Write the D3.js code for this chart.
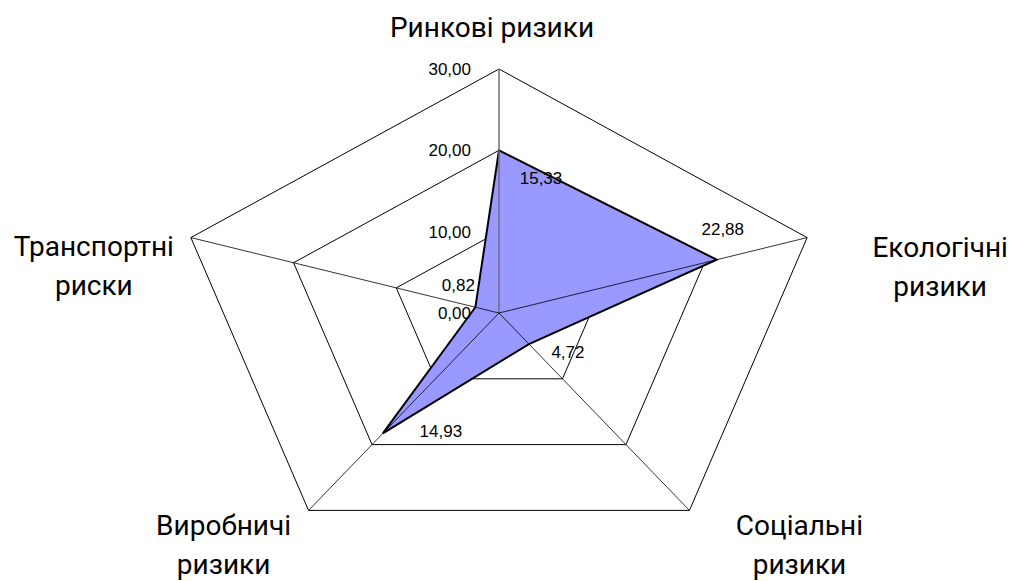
<!DOCTYPE html>
<html>
<head>
<meta charset="utf-8">
<script src="https://cdn.jsdelivr.net/npm/d3@7"></script>
<style>
  body { margin: 0; background: #fff; }
  text { fill: #000; }
  .cat { font-family: Roboto, "Noto Sans", sans-serif; font-size: 28px; }
  .num { font-family: "Liberation Sans", Arial, sans-serif; font-size: 17px; }
</style>
</head>
<body>
<script>
// categories (each label may wrap to two lines)
var categories = [
  ['Ринкові ризики'],
  ['Екологічні', 'ризики'],
  ['Соціальні', 'ризики'],
  ['Виробничі', 'ризики'],
  ['Транспортні', 'риски']
];
// where the polygon actually sits in the picture
var values = [20.0, 21.2, 4.72, 18.3, 2.3];
// data labels as printed on the chart
var valueLabels = ['15,33', '22,88', '4,72', '14,93', '0,82'];
var ticks = [0, 10, 20, 30];
var tickLabels = ['0,00', '10,00', '20,00', '30,00'];

var width = 1011, height = 581;
var cx = 499, cy = 313;

// radar is stretched wider than tall
var rx = d3.scaleLinear().domain([0, 30]).range([0, 324]);
var ry = d3.scaleLinear().domain([0, 30]).range([0, 244]);
var angle = d3.scaleLinear().domain([0, categories.length]).range([0, 2 * Math.PI]);

function pt(i, v) {
  var a = angle(i);
  return [cx + rx(v) * Math.sin(a), cy - ry(v) * Math.cos(a)];
}

var svg = d3.select('body').append('svg')
  .attr('width', width)
  .attr('height', height);

var line = d3.line().curve(d3.curveLinearClosed);

// grid pentagons
svg.append('g').selectAll('path')
  .data(ticks.filter(function(t) { return t > 0; }))
  .enter().append('path')
  .attr('d', function(t) { return line(categories.map(function(c, i) { return pt(i, t); })); })
  .attr('fill', 'none')
  .attr('stroke', '#000')
  .attr('stroke-width', 1);

// series
svg.append('path')
  .attr('d', line(values.map(function(v, i) { return pt(i, v); })))
  .attr('fill', '#9999ff')
  .attr('stroke', '#000')
  .attr('stroke-width', 2)
  .attr('stroke-linejoin', 'miter');

// spokes (drawn over the fill)
svg.append('g').selectAll('line')
  .data(categories)
  .enter().append('line')
  .attr('x1', cx).attr('y1', cy)
  .attr('x2', function(d, i) { return pt(i, 30)[0]; })
  .attr('y2', function(d, i) { return pt(i, 30)[1]; })
  .attr('stroke', function(d, i) { return i === 0 ? '#707070' : '#000'; })
  .attr('stroke-width', function(d, i) { return i === 0 ? 1.5 : 0.8; });

// value axis labels
svg.append('g').selectAll('text')
  .data(ticks)
  .enter().append('text')
  .attr('class', 'num')
  .attr('x', cx - 28)
  .attr('y', function(t) { return pt(0, t)[1]; })
  .attr('dy', '0.35em')
  .attr('text-anchor', 'end')
  .text(function(t, i) { return tickLabels[i]; });

// data labels, nudged off the points like in the original
var labelNudge = [[42, 28], [6, -31], [39, 8], [58, -2], [-17, -22]];
svg.append('g').selectAll('text')
  .data(values)
  .enter().append('text')
  .attr('class', 'num')
  .attr('x', function(v, i) { return pt(i, v)[0] + labelNudge[i][0]; })
  .attr('y', function(v, i) { return pt(i, v)[1] + labelNudge[i][1]; })
  .attr('dy', '0.35em')
  .attr('text-anchor', 'middle')
  .text(function(v, i) { return valueLabels[i]; });

// category labels
var catNudge = [[-7, -32], [133, 19], [110, 25], [-85, 25], [-97, 18]];
var lineGap = 39;
var cat = svg.append('g').selectAll('text')
  .data(categories)
  .enter().append('text')
  .attr('class', 'cat')
  .attr('text-anchor', 'middle')
  .attr('transform', function(d, i) {
    var p = pt(i, 30);
    return 'translate(' + (p[0] + catNudge[i][0]) + ',' + (p[1] + catNudge[i][1]) + ')';
  });
cat.selectAll('tspan')
  .data(function(d) { return d; })
  .enter().append('tspan')
  .attr('x', 0)
  .attr('y', function(d, j) { return j * lineGap; })
  .text(function(d) { return d; });
</script>
</body>
</html>
